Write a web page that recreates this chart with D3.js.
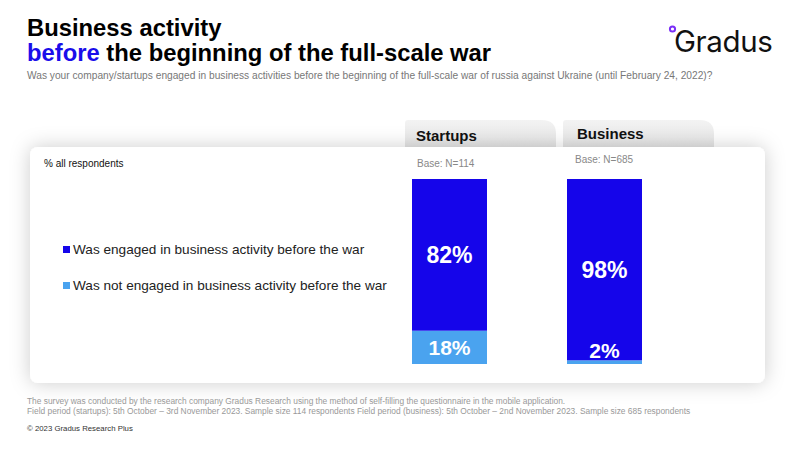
<!DOCTYPE html>
<html>
<head>
<meta charset="utf-8">
<script src="https://cdn.jsdelivr.net/npm/d3@7"></script>
<style>
  body { margin: 0; background: #fff; }
  svg { font-family: "Liberation Sans", Arial, sans-serif; }
</style>
</head>
<body>
<div id="chart"></div>
<script>
// data
const groups = ["Startups", "Business"];
const bases = ["Base: N=114", "Base: N=685"];
const engaged = [82, 98];
const notEngaged = [18, 2];
const seriesNames = ["Was engaged in business activity before the war", "Was not engaged in business activity before the war"];
const seriesColors = ["#1505ea", "#4aa3ef"];

const width = 800, height = 450;

const svg = d3.select("#chart")
  .append("svg")
  .attr("width", width)
  .attr("height", height);

const defs = svg.append("defs");
const shadow = defs.append("filter").attr("id", "shadow")
  .attr("x", "-10%").attr("y", "-20%").attr("width", "120%").attr("height", "140%");
shadow.append("feDropShadow")
  .attr("dx", 0).attr("dy", 0)
  .attr("stdDeviation", 10)
  .attr("flood-color", "#000")
  .attr("flood-opacity", 0.2);

const tabGrad = defs.append("linearGradient").attr("id", "tabGrad")
  .attr("x1", 0).attr("y1", 0).attr("x2", 0).attr("y2", 1);
tabGrad.append("stop").attr("offset", "0%").attr("stop-color", "#f3f3f3");
tabGrad.append("stop").attr("offset", "100%").attr("stop-color", "#e2e2e2");

// Title
svg.append("text")
  .attr("x", 27).attr("y", 36)
  .attr("font-size", 23.8).attr("font-weight", "bold").attr("fill", "#000")
  .text("Business activity");

const t2 = svg.append("text")
  .attr("x", 27).attr("y", 61)
  .attr("font-size", 23.8).attr("font-weight", "bold").attr("fill", "#000");
t2.append("tspan").attr("fill", "#1a0dea").text("before");
t2.append("tspan").text(" the beginning of the full-scale war");

svg.append("text")
  .attr("x", 27).attr("y", 79)
  .attr("font-size", 10.2).attr("fill", "#777")
  .text("Was your company/startups engaged in business activities before the beginning of the full-scale war of russia against Ukraine (until February 24, 2022)?");

// logo
svg.append("circle")
  .attr("cx", 672.5).attr("cy", 29).attr("r", 2.6)
  .attr("fill", "none").attr("stroke", "#7b2ff7").attr("stroke-width", 2);
svg.append("text")
  .attr("x", 674).attr("y", 52)
  .attr("font-family", "Inter, 'Noto Sans', sans-serif")
  .attr("font-size", 29.5).attr("fill", "#111").attr("letter-spacing", -0.4)
  .text("Gradus");

// scales
const x = d3.scaleBand()
  .domain(groups)
  .range([412, 642])
  .paddingInner(80 / 155)
  .paddingOuter(0);

const y = d3.scaleLinear()
  .domain([0, 100])
  .range([364, 179]);

// tabs
const tabW = 151, tabTop = 120, tabBottom = 152, rSmall = 3, rBig = 14;
groups.forEach((g, i) => {
  const x0 = x(g) - (i === 0 ? 7 : 4);
  const x1 = x0 + tabW;
  const p = d3.path();
  p.moveTo(x0, tabBottom);
  p.lineTo(x0, tabTop + rSmall);
  p.quadraticCurveTo(x0, tabTop, x0 + rSmall, tabTop);
  p.lineTo(x1 - rBig, tabTop);
  p.quadraticCurveTo(x1, tabTop, x1, tabTop + rBig);
  p.lineTo(x1, tabBottom);
  p.closePath();
  svg.append("path").attr("d", p.toString()).attr("fill", "url(#tabGrad)");
  svg.append("text")
    .attr("x", x(g) + (i === 0 ? 4 : 10)).attr("y", i === 0 ? 141 : 139)
    .attr("font-size", 15).attr("font-weight", "bold").attr("fill", "#111")
    .text(g);
});

// card
svg.append("rect")
  .attr("x", 30).attr("y", 147)
  .attr("width", 735).attr("height", 236)
  .attr("rx", 8)
  .attr("fill", "#fff")
  .attr("filter", "url(#shadow)");

svg.append("text")
  .attr("x", 44).attr("y", 167)
  .attr("font-size", 10).attr("fill", "#111")
  .text("% all respondents");

// base labels
svg.selectAll(".base")
  .data(groups)
  .enter()
  .append("text")
  .attr("class", "base")
  .attr("x", (d, i) => x(d) + (i === 0 ? 5 : 8))
  .attr("y", (d, i) => i === 0 ? 167 : 163)
  .attr("font-size", 10).attr("fill", "#888")
  .text((d, i) => bases[i]);

// stacked bars
const rows = groups.map((g, i) => ({ group: g, engaged: engaged[i], notEngaged: notEngaged[i] }));
const stack = d3.stack().keys(["notEngaged", "engaged"]);
const layers = stack(rows);
const colorOf = { engaged: seriesColors[0], notEngaged: seriesColors[1] };

const layerG = svg.selectAll(".layer")
  .data(layers)
  .enter()
  .append("g")
  .attr("class", "layer")
  .attr("fill", d => colorOf[d.key]);

layerG.selectAll("rect")
  .data(d => d)
  .enter()
  .append("rect")
  .attr("x", d => x(d.data.group))
  .attr("y", d => y(d[1]))
  .attr("width", x.bandwidth())
  .attr("height", d => y(d[0]) - y(d[1]));

// value labels (drawn after all rects)
const labelData = layers.flatMap(l => l.map(v => ({ v, key: l.key })));
svg.append("g")
  .selectAll("text")
  .data(labelData)
  .enter()
  .append("text")
  .attr("x", d => x(d.v.data.group) + x.bandwidth() / 2)
  .attr("y", d => {
    const h = y(d.v[0]) - y(d.v[1]);
    if (h < 20) return y(d.v[0]) - 6;
    return (y(d.v[0]) + y(d.v[1])) / 2 + 8;
  })
  .attr("text-anchor", "middle")
  .attr("font-size", d => d.key === "engaged" ? 23 : 21)
  .attr("font-weight", "bold")
  .attr("fill", "#fff")
  .text(d => (d.v[1] - d.v[0]) + "%");

// legend
const legend = svg.selectAll(".legend")
  .data(seriesNames)
  .enter()
  .append("g")
  .attr("class", "legend")
  .attr("transform", (d, i) => "translate(63," + (254 + i * 36) + ")");

legend.append("rect")
  .attr("x", 0).attr("y", -8)
  .attr("width", 7).attr("height", 7)
  .attr("fill", (d, i) => seriesColors[i]);

legend.append("text")
  .attr("x", 10).attr("y", 0)
  .attr("font-size", 13.6).attr("fill", "#222")
  .text(d => d);

// footer
svg.append("text")
  .attr("x", 27).attr("y", 404)
  .attr("font-size", 8.4).attr("fill", "#999")
  .text("The survey was conducted by the research company Gradus Research using the method of self-filling the questionnaire in the mobile application.");
svg.append("text")
  .attr("x", 27).attr("y", 414)
  .attr("font-size", 8.4).attr("fill", "#999")
  .text("Field period (startups): 5th October – 3rd November 2023. Sample size 114 respondents Field period (business): 5th October – 2nd November 2023. Sample size 685 respondents");
svg.append("text")
  .attr("x", 27).attr("y", 431)
  .attr("font-size", 7.8).attr("fill", "#333")
  .text("© 2023 Gradus Research Plus");
</script>
</body>
</html>
